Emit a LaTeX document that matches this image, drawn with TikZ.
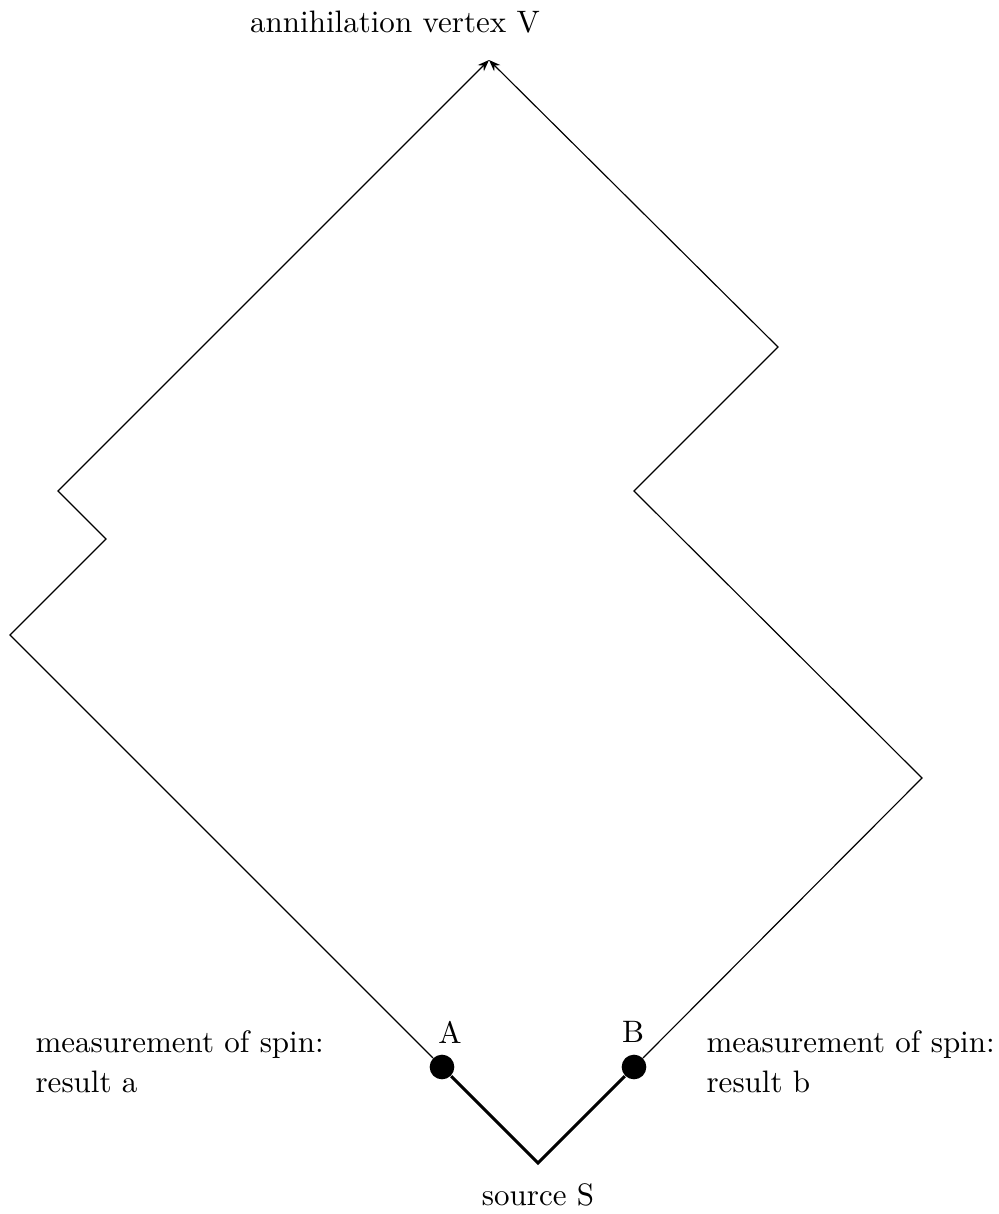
\documentclass[tikz,border=0pt]{standalone}
\usetikzlibrary{arrows.meta}
\begin{document}
\begin{tikzpicture}[x=0.345pt,y=-0.345pt,
  thin line/.style={line width=0.4pt},
  thick line/.style={line width=1pt},
  tip/.style={-{Stealth[length=4pt,width=3pt]}},
  dot/.style={circle,fill=black,inner sep=0pt,minimum size=8.5pt},
  lbl/.style={inner sep=0pt,font=\fontsize{10.7}{13.8}\selectfont}]
\useasboundingbox (0,0) rectangle (999,1214);
\coordinate (V) at (489,60);
\coordinate (R1) at (778,347);
\coordinate (R2) at (634,491);
\coordinate (R3) at (922,778);
\coordinate (L1) at (58,491);
\coordinate (L2) at (106,539);
\coordinate (L3) at (10,635);
\coordinate (S) at (538,1163);
\node[dot] (A) at (442,1067) {};
\node[dot] (B) at (634,1067) {};
\draw[thin line,tip] (A) -- (L3) -- (L2) -- (L1) -- (V);
\draw[thin line,tip] (B) -- (R3) -- (R2) -- (R1) -- (V);
\draw[thick line] (A) -- (S) -- (B);
\node[lbl] (tV) at (395,22) {annihilation vertex V};
\node[lbl] (tA) at (450,1032) {A};
\node[lbl] (tB) at (633,1032) {B};
\node[lbl] (tS) at (538,1195) {source S};
\node[lbl,anchor=west,align=left] (mA) at (35,1062) {measurement of spin:\\result a};
\node[lbl,anchor=west,align=left] (mB) at (706,1062) {measurement of spin:\\result b};
\end{tikzpicture}
\end{document}
